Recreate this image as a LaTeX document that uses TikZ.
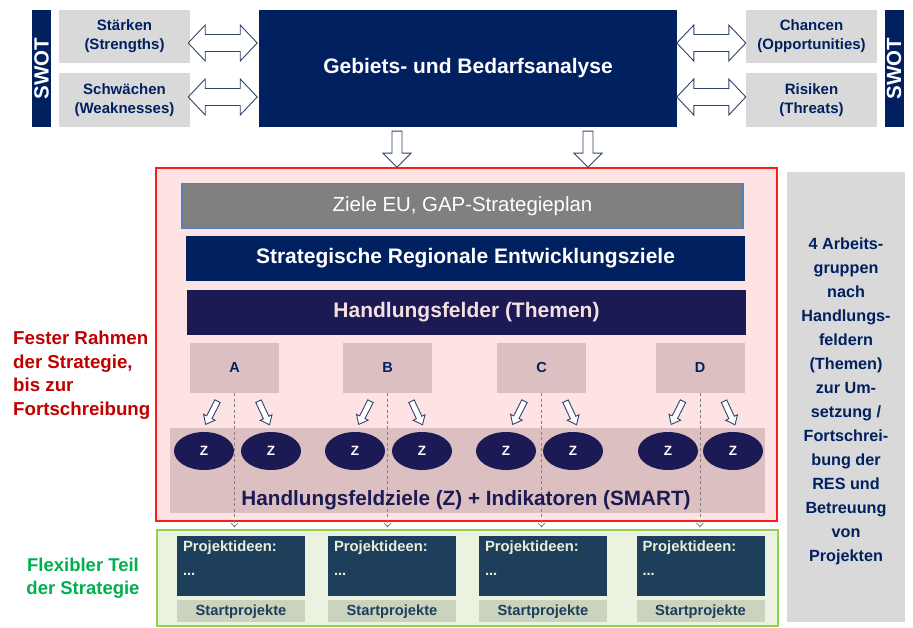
\documentclass[tikz,border=0pt]{standalone}
\usepackage{fontspec}
\setmainfont{Liberation Sans}
\usetikzlibrary{positioning, calc, arrows.meta, shapes.geometric}
\definecolor{swotblue}{HTML}{002060}
\definecolor{feldblue}{HTML}{1C1A54}
\definecolor{swotgrey}{HTML}{D9D9D9}
\definecolor{rahmenrot}{HTML}{FF1A1A}
\definecolor{rahmenrosa}{HTML}{FDE3E4}
\definecolor{feldrosa}{HTML}{DCC0C1}
\definecolor{zielgrau}{HTML}{808080}
\definecolor{zielrand}{HTML}{4F81BD}
\definecolor{teilgruen}{HTML}{EBF2DF}
\definecolor{randgruen}{HTML}{92D050}
\definecolor{projblau}{HTML}{1E3F5C}
\definecolor{projhell}{HTML}{E8EFD8}
\definecolor{startgruen}{HTML}{C9D3BD}
\definecolor{textrot}{HTML}{C00000}
\definecolor{textgruen}{HTML}{00B050}
\definecolor{pfeilgrau}{HTML}{2F4468}
\definecolor{liniegrau}{HTML}{808080}
\definecolor{themenrosa}{HTML}{F4E0E0}

\newcommand{\fsz}[2]{\fontsize{#1}{#2}\selectfont}

\tikzstyle{flatbox} = [rectangle, inner sep=0pt, align=center]
\tikzstyle{navybox} = [flatbox, fill=swotblue, text=white]
\tikzstyle{swotbox} = [flatbox, fill=swotgrey, text=swotblue, minimum width=131,
    font=\fsz{15}{19}\bfseries]
\tikzstyle{swotbar} = [navybox, minimum width=117, minimum height=19, rotate=90,
    font=\fsz{20.5}{21}\bfseries]
\tikzstyle{bandbox} = [flatbox, minimum height=45, text=white]
\tikzstyle{feld} = [flatbox, fill=feldrosa, text=swotblue, minimum width=89,
    minimum height=50, font=\fsz{14.5}{17}\bfseries]
\tikzstyle{zoval} = [ellipse, inner sep=0pt, fill=feldblue, text=white,
    minimum width=60, minimum height=38, font=\fsz{13.5}{15}\bfseries]
\tikzstyle{projekt} = [flatbox, fill=projblau, minimum width=128, minimum height=60]
\tikzstyle{projtext} = [inner sep=0pt, align=left, text=projhell,
    font=\fsz{14.8}{24}\bfseries]
\tikzstyle{startbox} = [flatbox, fill=startgruen, text=projblau, minimum width=128,
    minimum height=22, font=\fsz{14.7}{17}\bfseries]
\tikzstyle{hollow} = [draw=pfeilgrau, fill=white, line width=0.9pt, line join=miter]
\tikzstyle{dashline} = [liniegrau, line width=0.8pt, dash pattern=on 3pt off 2.5pt,
    -{Straight Barb[length=4pt, width=7pt]}]

\begin{document}
\begin{tikzpicture}[x=1pt, y=-1pt,
  pics/dblarrow/.style n args={4}{code={%
    \draw[hollow] (0,0) -- (#4,-#3) -- (#4,-#2) -- (#1-#4,-#2) -- (#1-#4,-#3)
      -- (#1,0) -- (#1-#4,#3) -- (#1-#4,#2) -- (#4,#2) -- (#4,#3) -- cycle;}},
  pics/downarrow/.style n args={4}{code={%
    \draw[hollow] (-#2,0) -- (-#2,#1-#4) -- (-#3,#1-#4) -- (0,#1)
      -- (#3,#1-#4) -- (#2,#1-#4) -- (#2,0) -- cycle;}}]

  \useasboundingbox (0,0) rectangle (913,628);

  % SWOT row
  \node[swotbar] (swotl) at (41.5,68.5) {SWOT};
  \node[swotbar] (swotr) at (894,68.5) {SWOT};
  \node[swotbox, minimum height=53] (st) at (124.5,36.5) {Stärken\\(Strengths)};
  \node[swotbox, minimum height=54] (sw) at (124.5,100) {Schwächen\\(Weaknesses)};
  \node[swotbox, minimum height=53] (ch) at (811.5,36.5) {Chancen\\(Opportunities)};
  \node[swotbox, minimum height=54] (ri) at (811.5,100) {Risiken\\(Threats)};
  \node[navybox, minimum width=418, minimum height=117, font=\fsz{21}{24}\bfseries]
    (gba) at (468,68.5) {Gebiets- und Bedarfsanalyse};

  \pic at ($(st.east)+(-2,6.5)$) {dblarrow={69}{8.5}{18}{17}};
  \pic at ($(sw.east)+(-2,-3)$) {dblarrow={69}{8.5}{18}{17}};
  \pic at ($(ch.west)+(-69,6.5)$) {dblarrow={69}{8.5}{18}{17}};
  \pic at ($(ri.west)+(-69,-3)$) {dblarrow={69}{8.5}{18}{17}};

  % frames
  \node[flatbox, draw=rahmenrot, line width=1.2pt, fill=rahmenrosa,
    minimum width=621, minimum height=353] (rot) at (466.5,344.5) {};
  \node[flatbox, draw=randgruen, line width=1.2pt, fill=teilgruen,
    minimum width=621, minimum height=96] (gruen) at (467.5,578) {};
  \node[flatbox, fill=swotgrey, minimum width=118, minimum height=450]
    (ag) at (846,397) {};
  \node[flatbox, text=swotblue, font=\fsz{16.2}{24}\bfseries]
    (agtext) at ($(ag.center)+(0,4)$)
    {4 Arbeits-\\gruppen\\nach\\Handlungs-\\feldern\\(Themen)\\zur Um-\\setzung /\\Fortschrei-\\bung der\\RES und\\Betreuung\\von\\Projekten};

  \pic at ($(gba.south)+(-71,4)$) {downarrow={36}{5}{14}{14}};
  \pic at ($(gba.south)+(120,4)$) {downarrow={36}{5}{14}{14}};

  % fester Rahmen
  \node[bandbox, fill=zielgrau, draw=zielrand, line width=1.2pt, minimum width=561,
    font=\fsz{20.4}{24}] (ziele) at (462.5,206) {Ziele EU, GAP-Strategieplan};
  \node[bandbox, fill=swotblue, minimum width=559, font=\fsz{21}{24}\bfseries]
    (srez) at (465.5,258.5) {Strategische Regionale Entwicklungsziele};
  \node[bandbox, fill=feldblue, text=themenrosa, minimum width=559,
    font=\fsz{21}{24}\bfseries] (hf) at (466.5,312.5) {Handlungsfelder (Themen)};
  \node[flatbox, fill=feldrosa, minimum width=595, minimum height=85]
    (band) at (467.5,470.5) {};

  \foreach \n/\cx/\za/\zb in {A/234.5/204/271, B/387.5/355/422, C/541.5/506/573, D/700/668/733}{
    \node[feld] (\n) at (\cx,368) {\n};
    \pic[rotate=-27] at ($(\n.south)+(-17,8)$) {downarrow={26}{3}{6.5}{8}};
    \pic[rotate=25] at ($(\n.south)+(24,8)$) {downarrow={26}{3}{6.5}{8}};
    \draw[dashline] (\n.south) -- ($(\n.south |- gruen.north)+(0,-2)$);
    \node[zoval] (z\n1) at (\za,451) {Z};
    \node[zoval] (z\n2) at (\zb,451) {Z};
  }

  \node[inner sep=0pt, text=feldblue, font=\fsz{20.7}{24}\bfseries]
    (hfz) at (466,500) {Handlungsfeldziele (Z) + Indikatoren (SMART)};

  % flexibler Teil
  \foreach \n/\px in {1/241, 2/392, 3/543, 4/700.5}{
    \node[projekt] (p\n) at (\px,566) {};
    \node[projtext, anchor=north west] (pt\n) at ($(p\n.north west)+(6,5)$)
      {Projektideen:\\...};
    \node[startbox, below=4pt of p\n] (s\n) {Startprojekte};
  }

  % left labels
  \node[anchor=north west, inner sep=0pt, align=left, text=textrot,
    font=\fsz{18.7}{23.5}\bfseries] (fest) at (13,331)
    {Fester Rahmen\\der Strategie,\\bis zur\\Fortschreibung};
  \node[inner sep=0pt, align=center, text=textgruen, font=\fsz{18.5}{23}\bfseries]
    (flex) at (83,578) {Flexibler Teil\\der Strategie};
\end{tikzpicture}
\end{document}
